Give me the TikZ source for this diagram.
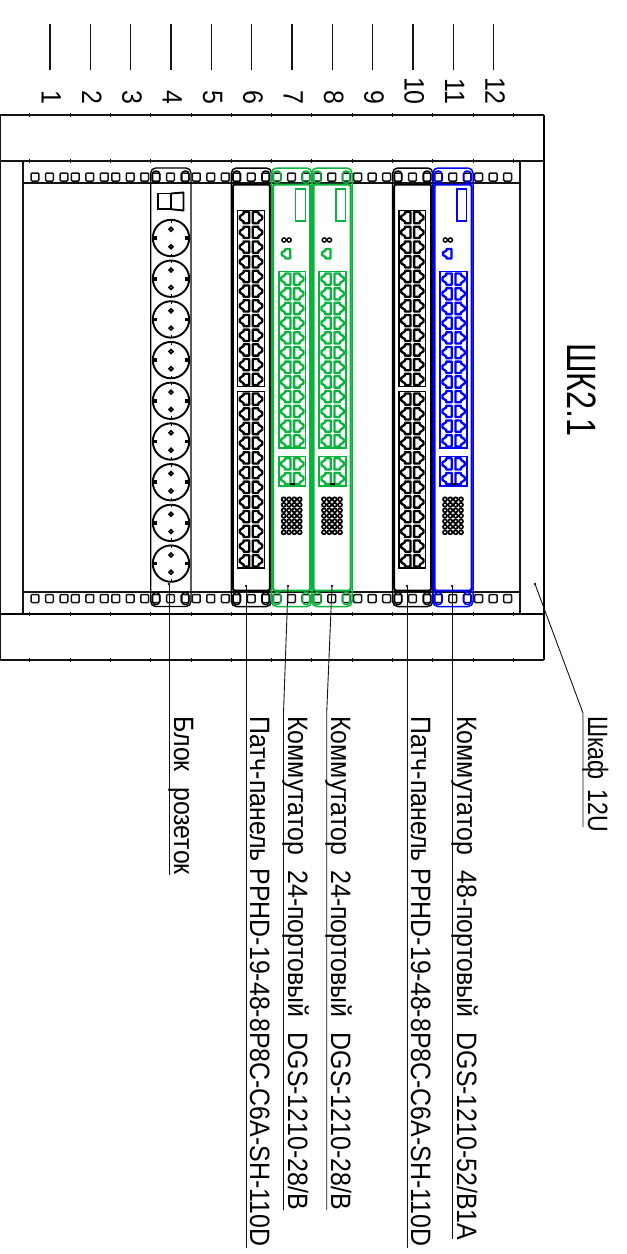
\documentclass[tikz,border=0pt]{standalone}
\usepackage{fontspec}
\newfontfamily\gost[FakeStretch=0.89]{Liberation Sans}
\newfontfamily\gostcab[FakeStretch=0.825]{Liberation Sans}
\newfontfamily\gosthead[FakeStretch=0.79]{Liberation Sans}
\definecolor{swgreen}{RGB}{10,180,60}
\definecolor{swblue}{RGB}{0,0,255}
\definecolor{rackline}{RGB}{20,20,20}
\tikzset{
  rackln/.style={draw=rackline,line width=1.3pt},
  rackheavy/.style={draw=black,line width=1.7pt},
  tickln/.style={draw=rackline,line width=1.6pt},
  holebox/.style={draw=rackline,line width=1.5pt,rounded corners=1pt},
  leader/.style={draw=rackline,line width=0.9pt},
  lbl/.style={rotate=-90,anchor=base west,inner sep=0pt,font=\gost\fontsize{28}{28}\selectfont,text=black},
  numlbl/.style={rotate=-90,anchor=base east,inner sep=0pt,font=\gost\fontsize{28}{28}\selectfont,text=black},
  headlbl/.style={rotate=-90,anchor=base west,inner sep=0pt,font=\gosthead\fontsize{41}{41}\selectfont,text=black},
}
\newcommand{\widesp}[1]{\spaceskip=#1pt\relax}
% left-facing and right-facing RJ45 ports, local origin = top-left of the block row
\newcommand{\portrow}[3]{%
  \draw[#3,line width=2.3pt,line join=round] ({#1+11.6},{#2+1.7}) -- ({#1+6},{#2+1.7}) -- ({#1+6},{#2+3.4}) -- ({#1+2.2},{#2+6}) -- ({#1+2.2},{#2+8.7}) -- ({#1+6},{#2+11.3}) -- ({#1+6},{#2+13}) -- ({#1+11.6},{#2+13}) -- cycle;
  \draw[#3,line width=2.3pt,line join=round] ({#1+15.2},{#2+1.7}) -- ({#1+20.8},{#2+1.7}) -- ({#1+20.8},{#2+3.4}) -- ({#1+24.6},{#2+6}) -- ({#1+24.6},{#2+8.7}) -- ({#1+20.8},{#2+11.3}) -- ({#1+20.8},{#2+13}) -- ({#1+15.2},{#2+13}) -- cycle;
}
% x, y, rows, colour
\newcommand{\portblock}[4]{%
  \draw[#4,line width=1.5pt] (#1,#2) rectangle ({#1+26.8},{#2+#3*14.7});
  \pgfmathtruncatemacro{\lastrow}{#3-1}
  \foreach \rr in {0,...,\lastrow}{\pgfmathsetmacro{\ry}{#2+\rr*14.7}\portrow{#1}{\ry}{#4}}
}
% device frame: left x, colour
\newcommand{\devframe}[2]{%
  \draw[#2,line width=1.5pt,rounded corners=5pt] (#1,168) rectangle ({#1+40},606.5);
  \draw[#2,line width=2pt,rounded corners=2pt] ({#1+1.5},184.5) rectangle ({#1+38.5},590.5);
  \foreach \sx in {5.3,34.3}{
    \draw[#2,line width=1.5pt,rounded corners=3pt] ({#1+\sx-3.5},171) rectangle ({#1+\sx+3.5},183);
    \draw[#2,line width=1.5pt,rounded corners=3pt] ({#1+\sx-3.5},592.5) rectangle ({#1+\sx+3.5},604.5);
  }
}
% switch face: left x, colour
\newcommand{\switchface}[2]{%
  \draw[#2,line width=1.5pt] ({#1+24},189) rectangle ({#1+33.6},221);
  \draw[black,line width=1.4pt] ({#1+12.3},240) circle (2.1);
  \draw[black,line width=1.4pt] ({#1+17.4},240) circle (2.1);
  \draw[#2,line width=2.3pt,line join=round] ({#1+18.5},249) -- ({#1+13.5},249) -- ({#1+13.5},250.5) -- ({#1+10},252.5) -- ({#1+10},255) -- ({#1+13.5},257) -- ({#1+13.5},258.5) -- ({#1+18.5},258.5) -- cycle;
  \portblock{#1+7.2}{271.7}{12}{#2}
  \portblock{#1+7.2}{456.5}{2}{#2}
  \draw[black,line width=1.5pt] ({#1+17.8},484) -- ({#1+22.8},484);
  \foreach \cc in {0,...,3}{\foreach \dd in {0,...,6}{
    \draw[black,line width=1.7pt] ({#1+12+\cc*5.33},{499.3+\dd*5.5}) circle (2);
  }}
}
\newcommand{\socket}[1]{%
  \draw[black,line width=1.9pt] (171,#1) circle (18.2);
  \draw[black,line width=1.7pt] (171,{#1-8.7}) circle (1.9);
  \draw[black,line width=1.7pt] (171,{#1+8.7}) circle (1.9);
  \fill[black] (152.8,{#1-1.8}) rectangle (157.2,{#1+1.8});
  \fill[black] (184.8,{#1-1.8}) rectangle (189.2,{#1+1.8});
  \draw[black,line width=0.9pt] (171,{#1-18.2}) -- (171,{#1-15.5});
  \draw[black,line width=0.9pt] (171,{#1+18.2}) -- (171,{#1+15.5});
}
\begin{document}
\begin{tikzpicture}[x=1pt,y=-1pt]
\useasboundingbox (0,0) rectangle (627,1254);
\fill[white] (0,0) rectangle (627,1254);

% --- U number ticks and numbers
\foreach \i [evaluate=\i as \xt using {50+40.33*(\i-1)}, evaluate=\i as \xn using {41.7+40.33*(\i-1)}] in {1,...,12}{
  \draw[tickln] (\xt,24) -- (\xt,70);
  \node[numlbl] (num\i) at (\xn,105) {\i};
}

% --- rack body
\draw[rackln] (0,115) -- (544,115);
\draw[rackln] (0,161) -- (544,161);
\draw[rackheavy] (0,614) -- (544,614);
\draw[rackln] (0,660) -- (544,660);
\draw[rackln] (0,115) -- (0,660);
\draw[rackheavy] (544,115) -- (544,660);
\draw[rackln] (23,161) -- (23,614);
\draw[rackln] (520,161) -- (520,614);
\draw[rackln] (23,183) -- (520,183);
\draw[rackln] (23,592) -- (520,592);
\foreach \i in {0,...,12}{
  \pgfmathsetmacro{\tx}{29.5+40.3*\i}
  \foreach \ty in {115,161,614,660}{\draw[draw=rackline,line width=0.4pt] (\tx,\ty-2) -- (\tx,\ty+2);}
}

% --- mounting holes
\foreach \i in {0,...,11}{
  \foreach \o in {0,14.5,29}{
    \pgfmathsetmacro{\hx}{35+40.33*\i+\o}
    \draw[holebox] (\hx-3.9,173) rectangle (\hx+3.9,181);
    \draw[holebox] (\hx-3.9,594.5) rectangle (\hx+3.9,602.5);
  }
}

% --- socket strip
\draw[black,line width=1.4pt,rounded corners=5pt] (150.7,168) rectangle (191,606.5);
\foreach \sx in {156,185.3}{
  \draw[black,line width=1.5pt,rounded corners=3pt] (\sx-3.5,171) rectangle (\sx+3.5,183);
  \draw[black,line width=1.5pt,rounded corners=3pt] (\sx-3.5,592.5) rectangle (\sx+3.5,604.5);
}
\draw[black,line width=1.9pt] (158.3,193.5) rectangle (170.8,209.2);
\draw[black,line width=1.9pt,line join=round] (170.8,193.5) -- (183.5,192.5) -- (183.5,210.5) -- (170.8,209.2);
\foreach \s in {0,...,8}{\pgfmathsetmacro{\sy}{238+40.7*\s}\socket{\sy}}

% --- devices
\devframe{231.4}{black}
\portblock{237.6}{210.3}{12}{black}
\portblock{237.6}{391.7}{12}{black}
\devframe{392.7}{black}
\portblock{398.9}{210.3}{12}{black}
\portblock{398.9}{391.7}{12}{black}
\devframe{271.7}{swgreen}
\switchface{271.7}{swgreen}
\devframe{312}{swgreen}
\switchface{312}{swgreen}
\devframe{433}{swblue}
\switchface{433}{swblue}

% --- title
\node[headlbl] (title) at (567,343) {ШК2.1};

% --- leaders
\coordinate (aCab) at (535,584);   \coordinate (bCab) at (583,713);   \coordinate (eCab) at (583,827);
\coordinate (aSw3) at (452,586);   \coordinate (eSw3) at (452,1239);
\coordinate (aPa2) at (407,586);   \coordinate (ePa2) at (407,1248);
\coordinate (aSw2) at (332,586);   \coordinate (bSw2) at (326.7,713); \coordinate (eSw2) at (326.7,1210);
\coordinate (aSw1) at (288,586);   \coordinate (bSw1) at (283.5,713); \coordinate (eSw1) at (283.5,1210);
\coordinate (aPa1) at (246,586);   \coordinate (ePa1) at (246,1248);
\coordinate (aSoc) at (169,584);   \coordinate (eSoc) at (169,875);
\draw[leader] (aCab) -- (bCab) -- (eCab);
\draw[leader] (aSw3) -- (eSw3);
\draw[leader] (aPa2) -- (ePa2);
\draw[leader] (aSw2) -- (bSw2) -- (eSw2);
\draw[leader] (aSw1) -- (bSw1) -- (eSw1);
\draw[leader] (aPa1) -- (ePa1);
\draw[leader] (aSoc) -- (eSoc);
\foreach \c in {aCab,aSw3,aPa2,aSw2,aSw1,aPa1,aSoc}{\fill[rackline] (\c) circle (1.3);}

% --- labels
\node[lbl,font=\gostcab\fontsize{28}{28}\selectfont] (tCab) at (588,716) {\widesp{10}Шкаф 12U};
\node[lbl] (tSw3) at (457,716) {\widesp{15.5}Коммутатор 48-портовый DGS-1210-52/B1A};
\node[lbl] (tPa2) at (411,716) {Патч-панель PPHD-19-48-8P8C-C6A-SH-110D};
\node[lbl] (tSw2) at (331,716) {\widesp{15.5}Коммутатор 24-портовый DGS-1210-28/B};
\node[lbl] (tSw1) at (288,716) {\widesp{15.5}Коммутатор 24-портовый DGS-1210-28/B};
\node[lbl] (tPa1) at (250,716) {Патч-панель PPHD-19-48-8P8C-C6A-SH-110D};
\node[lbl] (tSoc) at (174,716) {\widesp{15.5}Блок розеток};
\end{tikzpicture}
\end{document}
